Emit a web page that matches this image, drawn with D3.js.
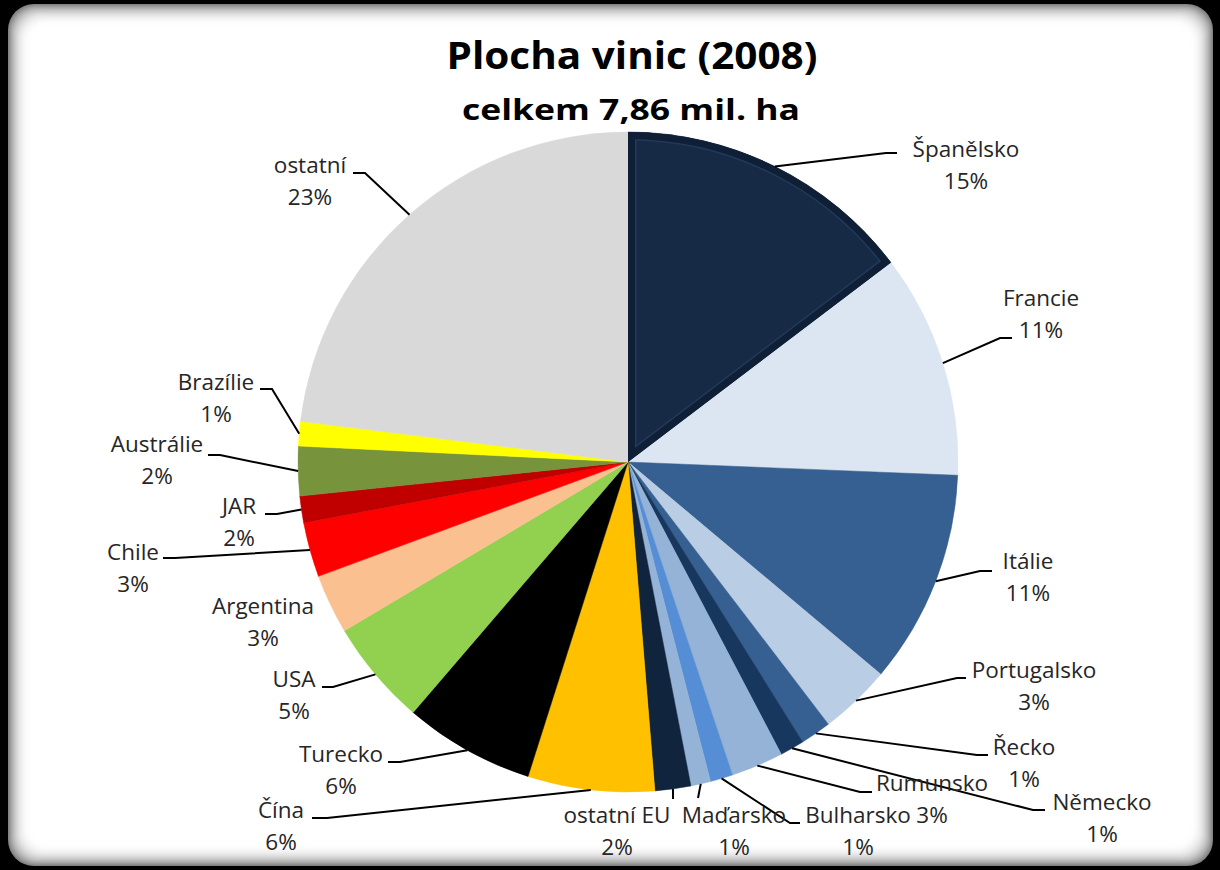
<!DOCTYPE html>
<html><head><meta charset="utf-8">
<script src="https://cdn.jsdelivr.net/npm/d3@7"></script>
<style>html,body{margin:0;padding:0;background:#000;} svg{display:block}</style>
</head><body><svg id="c" width="1220" height="870"></svg>
<script>
// ---- data ----
const title = "Plocha vinic (2008)";
const subtitle = "celkem 7,86 mil. ha";
const countries = ["Španělsko","Francie","Itálie","Portugalsko","Řecko","Německo","Rumunsko","Bulharsko","Maďarsko","ostatní EU","Čína","Turecko","USA","Argentina","Chile","JAR","Austrálie","Brazílie","ostatní"];
const areas = [1153,862,823,275,118,94,201,87,76,138,487,502,406,229,210,103,190,94,1810]; // tis. ha (odhad)
const pctLabels = ["15%","11%","11%","3%","1%","1%","3%","1%","1%","2%","6%","6%","5%","3%","3%","2%","2%","1%","23%"];
const colors = ["#172a45","#dce6f2","#376092","#b9cde5","#376092","#17375e","#95b3d7","#558ed5","#95b3d7","#10243e","#ffc000","#000000","#92d050","#fac090","#ff0000","#c00000","#77933c","#ffff00","#d9d9d9"];

// ---- layout for labels (text centre x, first-line baseline y, leader elbow & end) ----
const labelLayout = {
  "Španělsko":  {x:966, y:157, e:[886,153], t:[897,153]},
  "Francie":    {x:1041,y:306, e:[1000,338], t:[1012,338]},
  "Itálie":     {x:1028,y:569, e:[980,571], t:[992,571]},
  "Portugalsko":{x:1034,y:678, e:[957,678], t:[966,678]},
  "Řecko":      {x:1024,y:755, e:[977,755], t:[988,755]},
  "Německo":    {x:1102,y:810, e:[1033,810], t:[1045,810]},
  "Rumunsko":   {x:932, y:791, e:[860,792], t:[872,792]},
  "Bulharsko":  {x:858, y:823, e:[790,823], t:[800,823]},
  "Maďarsko":   {x:734, y:823, e:[698,798], t:[698,798]},
  "ostatní EU": {x:617, y:823, e:[673,799], t:[673,799]},
  "Čína":       {x:281, y:818, e:[327,818], t:[312,818]},
  "Turecko":    {x:341, y:762, e:[400,762], t:[388,762]},
  "USA":        {x:294, y:687, e:[333,687], t:[322,687]},
  "Argentina":  {x:263, y:614, e:null, t:null},
  "Chile":      {x:133, y:560, e:[175,558], t:[163,558]},
  "JAR":        {x:239, y:514, e:[277,514], t:[265,514]},
  "Austrálie":  {x:157, y:452, e:[220,455], t:[208,455]},
  "Brazílie":   {x:216, y:390, e:[272,389], t:[260,389]},
  "ostatní":    {x:310, y:173, e:[365,173], t:[353,173]}
};

const W = 1220, H = 870;
const cx = 628, cy = 462, R = 330;
const FONT = "'Open Sans', Lato, sans-serif";
const svg = d3.select("#c");

// ---- frame ----
svg.append("rect").attr("width",W).attr("height",H).attr("fill","#000");
const fx = 8, fy = 4, fw = 1205, fh = 862, steps = 24;
for (let i = 0; i <= steps; i++) {
  const t = i / steps;
  const gv = Math.round(255 - (255 - 130) * Math.pow(1 - t, 2.6));
  svg.append("rect")
    .attr("x", fx + i).attr("y", fy + i)
    .attr("width", fw - 2 * i).attr("height", fh - 2 * i)
    .attr("rx", Math.max(26 - i * 0.3, 4))
    .attr("fill", d3.rgb(gv, gv, gv));
}

// ---- title ----
svg.append("text").text(title)
  .attr("x", 632).attr("y", 69).attr("text-anchor","middle")
  .attr("font-family", FONT).attr("font-weight", 700).attr("font-size", 38)
  .attr("textLength", 371).attr("lengthAdjust","spacingAndGlyphs").attr("fill","#000");
svg.append("text").text(subtitle)
  .attr("x", 631).attr("y", 120).attr("text-anchor","middle")
  .attr("font-family", FONT).attr("font-weight", 700).attr("font-size", 28)
  .attr("textLength", 338).attr("lengthAdjust","spacingAndGlyphs").attr("fill","#000");

// ---- pie ----
const pie = d3.pie().sort(null).value(d => d).startAngle(0).endAngle(2 * Math.PI);
const arcs = pie(areas);
const arc = d3.arc().innerRadius(0).outerRadius(R);
const g = svg.append("g").attr("transform", `translate(${cx},${cy})`);

g.selectAll("path.slice").data(arcs).join("path")
  .attr("class","slice")
  .attr("d", arc)
  .attr("fill", (d, i) => colors[i])
  .attr("stroke", (d, i) => colors[i]).attr("stroke-width", 0.5);

// bevel border on the first (highlighted) slice
const defs = svg.append("defs");
defs.append("clipPath").attr("id","clip0").append("path").attr("d", arc(arcs[0]));
const bevel = g.append("g").attr("clip-path","url(#clip0)");
bevel.append("path").attr("d", arc(arcs[0])).attr("fill","none")
  .attr("stroke","#22395a").attr("stroke-width",17).attr("stroke-linejoin","miter");
bevel.append("path").attr("d", arc(arcs[0])).attr("fill","none")
  .attr("stroke","#0f1f36").attr("stroke-width",14).attr("stroke-linejoin","miter");

// ---- labels + leaders ----
const lab = svg.append("g");
arcs.forEach((a, i) => {
  const name = countries[i];
  const L = labelLayout[name];
  const mid = (a.startAngle + a.endAngle) / 2;
  const sx = cx + R * Math.sin(mid), sy = cy - R * Math.cos(mid);
  if (L.e) {
    lab.append("path")
      .attr("d", d3.line()([[sx, sy], L.e, L.t]))
      .attr("fill","none").attr("stroke","#000").attr("stroke-width",2);
  }
  const tx = lab.append("text").attr("font-family", FONT).attr("font-size", 22.5)
    .attr("fill","#262626").attr("text-anchor","middle");
  tx.append("tspan").attr("x", L.x).attr("y", L.y).text(name);
  tx.append("tspan").attr("x", L.x).attr("y", L.y + 32).text(pctLabels[i]);
});
</script>
</body></html>
